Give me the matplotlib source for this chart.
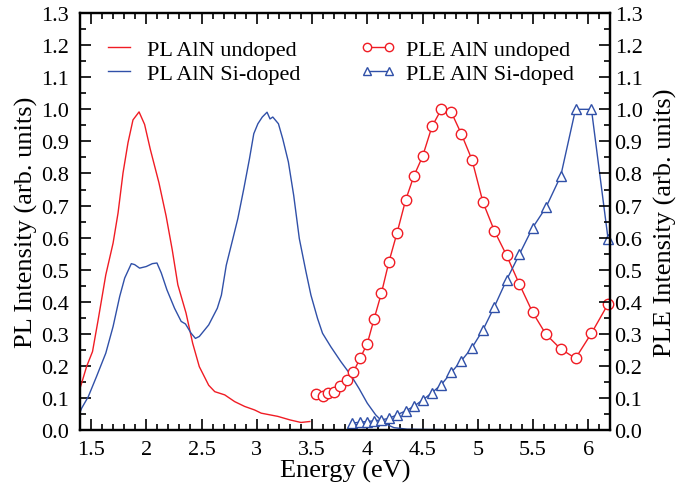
import matplotlib
matplotlib.use("Agg")
import matplotlib.pyplot as plt
from matplotlib.ticker import MultipleLocator, FuncFormatter

plt.rcParams['font.family'] = ['Liberation Serif', 'DejaVu Serif']
plt.rcParams['font.size'] = 16

# PL spectra (continuous lines)
pl_undoped_e = [1.40, 1.415, 1.46, 1.514, 1.565, 1.634, 1.70, 1.745, 1.79, 1.835,
                1.88, 1.935, 1.985, 2.037, 2.115, 2.18, 2.235, 2.286, 2.36, 2.42,
                2.48, 2.565, 2.62, 2.71, 2.80, 2.89, 2.98, 3.04, 3.19, 3.30,
                3.40, 3.48]
pl_undoped = [0.13, 0.146, 0.198, 0.245, 0.344, 0.484, 0.583, 0.677, 0.802, 0.896,
              0.967, 0.992, 0.953, 0.875, 0.771, 0.667, 0.5625, 0.453, 0.365, 0.271,
              0.198, 0.14, 0.12, 0.11, 0.089, 0.074, 0.063, 0.053, 0.043, 0.032,
              0.024, 0.027]

pl_si_e = [1.40, 1.415, 1.475, 1.55, 1.634, 1.70, 1.76, 1.805, 1.865, 1.895,
           1.94, 2.0, 2.055, 2.097, 2.136, 2.187, 2.256, 2.316, 2.355, 2.406,
           2.445, 2.48, 2.565, 2.643, 2.68, 2.724, 2.784, 2.829, 2.883, 2.934,
           2.973, 3.01, 3.05, 3.093, 3.12, 3.145, 3.196, 3.235, 3.286, 3.334,
           3.385, 3.445, 3.49, 3.55, 3.595, 3.67, 3.76, 3.85, 3.925, 4.0,
           4.075, 4.15, 4.24, 4.36, 4.57, 4.66]
pl_si = [0.055, 0.068, 0.104, 0.167, 0.24, 0.323, 0.417, 0.474, 0.519, 0.516,
         0.505, 0.51, 0.519, 0.521, 0.49, 0.4375, 0.38, 0.339, 0.331, 0.302,
         0.286, 0.292, 0.328, 0.38, 0.421, 0.514, 0.597, 0.66, 0.753, 0.846,
         0.924, 0.955, 0.976, 0.991, 0.97, 0.976, 0.955, 0.908, 0.836, 0.732,
         0.597, 0.494, 0.421, 0.348, 0.302, 0.26, 0.214, 0.172, 0.13, 0.084,
         0.048, 0.022, 0.008, 0.003, 0.002, 0.002]

# PLE spectra (markers)
ple_undoped_e = [3.535, 3.595, 3.646, 3.70, 3.754, 3.814, 3.875, 3.935, 4.00, 4.06,
                 4.127, 4.196, 4.27, 4.346, 4.42, 4.50, 4.586, 4.67, 4.76, 4.85,
                 4.947, 5.046, 5.15, 5.26, 5.376, 5.496, 5.616, 5.75, 5.884, 6.028,
                 6.178]
ple_undoped = [0.112, 0.107, 0.115, 0.12, 0.138, 0.155, 0.182, 0.224, 0.27, 0.345,
               0.426, 0.525, 0.616, 0.716, 0.791, 0.853, 0.947, 1.0, 0.991, 0.924,
               0.843, 0.711, 0.621, 0.545, 0.455, 0.367, 0.299, 0.253, 0.224, 0.302,
               0.393]

ple_si_e = [3.865, 3.935, 4.00, 4.06, 4.127, 4.196, 4.27, 4.346, 4.42, 4.505,
            4.586, 4.67, 4.76, 4.85, 4.947, 5.046, 5.15, 5.26, 5.376, 5.496,
            5.616, 5.75, 5.884, 6.028, 6.178]
ple_si = [0.022, 0.025, 0.027, 0.029, 0.032, 0.037, 0.048, 0.06, 0.074, 0.095,
          0.117, 0.142, 0.18, 0.216, 0.257, 0.312, 0.385, 0.468, 0.548, 0.631,
          0.694, 0.792, 1.0, 1.0, 0.597]

red = '#f01c24'
blue = '#3050a8'

fig = plt.figure(figsize=(6.89, 4.85), dpi=100)
ax = fig.add_axes([0.116, 0.111, 0.770, 0.860])
ax2 = ax.twinx()

ax.plot(pl_undoped_e, pl_undoped, color=red, lw=1.0, label='PL AlN undoped')
ax.plot(pl_si_e, pl_si, color=blue, lw=1.0, label='PL AlN Si-doped')
ax.plot(ple_undoped_e, ple_undoped, color=red, lw=1.0, marker='o', ms=7.5,
        mfc='white', mec=red, mew=1.0, label='PLE AlN undoped', clip_on=False)
ax.plot(ple_si_e, ple_si, color=blue, lw=1.0, marker='^', ms=7.5,
        mfc='white', mec=blue, mew=1.0, label='PLE AlN Si-doped', clip_on=False)

ax.set_xlim(1.4, 6.2)
ax.xaxis.set_major_locator(MultipleLocator(0.5))
ax.xaxis.set_minor_locator(MultipleLocator(0.1))
ax.xaxis.set_major_formatter(FuncFormatter(lambda v, p: '%g' % v))
for a in (ax, ax2):
    a.set_ylim(0.0, 1.3)
    a.yaxis.set_major_locator(MultipleLocator(0.1))
    a.yaxis.set_minor_locator(MultipleLocator(0.05))
    a.yaxis.set_major_formatter(FuncFormatter(lambda v, p: '%.1f' % v))
    a.tick_params(which='both', direction='in', width=1.2, labelsize=16)
    a.tick_params(which='major', length=8)
    a.tick_params(which='minor', length=4)
    for s in a.spines.values():
        s.set_linewidth(1.6)

ax.tick_params(which='both', top=True, right=False)
ax.tick_params(axis='x', pad=7)
ax.tick_params(axis='y', pad=8)
ax2.tick_params(axis='y', pad=3)

ax.set_xlabel('Energy (eV)', fontsize=19, labelpad=0)
ax.set_ylabel('PL Intensity (arb. units)', fontsize=19, labelpad=2)
ax2.set_ylabel('PLE Intensity (arb. units)', fontsize=19, rotation=90,
               labelpad=8)

ax.legend(loc='upper left', bbox_to_anchor=(0.003, 0.985), ncol=2,
          frameon=False, fontsize=16, handlelength=1.6, handletextpad=0.45,
          columnspacing=2.7, labelspacing=0.15, numpoints=2, markerscale=0.8)

fig.savefig('out.png', dpi=100)
